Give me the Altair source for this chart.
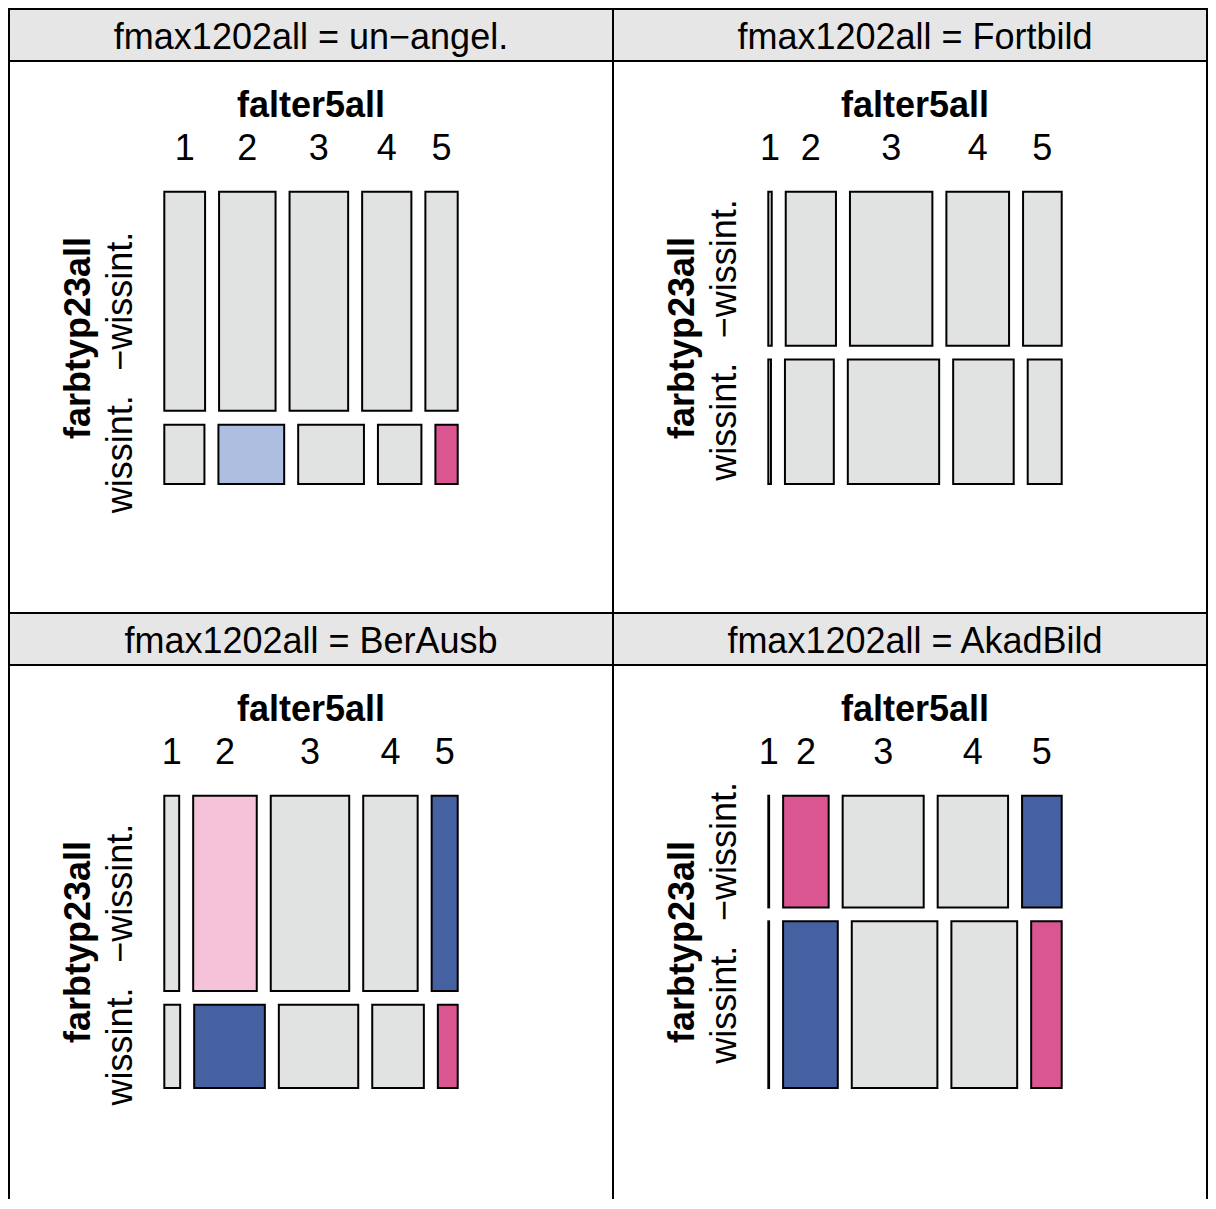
import altair as alt
import pandas as pd

# ---- data (cell shares, % of each panel's total) ----
panel_labels = ["fmax1202all = un\u2212angel.", "fmax1202all = Fortbild",
                "fmax1202all = BerAusb", "fmax1202all = AkadBild"]
ages = ["1", "2", "3", "4", "5"]
rows = ["\u2212wissint.", "wissint."]

un_top = [13.5, 18.7, 19.4, 16.3, 10.7]
un_bot = [3.6, 5.9, 5.9, 3.9, 2.0]
fo_top = [0.8, 11.7, 19.2, 14.6, 9.0]
fo_bot = [0.5, 9.2, 17.2, 11.4, 6.4]
be_top = [4.4, 18.8, 23.2, 16.1, 7.7]
be_bot = [2.0, 8.9, 10.0, 6.5, 2.5]
ak_top = [0.14, 7.7, 13.7, 11.9, 6.7]
ak_bot = [0.2, 13.8, 21.6, 16.6, 7.7]

# residual shading class per cell
un_top_s = ["n", "n", "n", "n", "n"]
un_bot_s = ["n", "b1", "n", "n", "r2"]
fo_top_s = ["n", "n", "n", "n", "n"]
fo_bot_s = ["n", "n", "n", "n", "n"]
be_top_s = ["n", "r1", "n", "n", "b2"]
be_bot_s = ["n", "b2", "n", "n", "r2"]
ak_top_s = ["n", "r2", "n", "n", "b2"]
ak_bot_s = ["n", "b2", "n", "n", "r2"]

shade_domain = ["n", "b1", "b2", "r1", "r2"]
shade_range = ["#E1E2E2", "#AEBEE1", "#4661A1", "#F6C2D9", "#D95691"]

FONT = "Liberation Sans"
FS = 36
G = 0.0477  # gap between tiles (fraction of mosaic size)

xs = alt.Scale(domain=[0, 1], range=[155.3, 448.7])
ys = alt.Scale(domain=[0, 1], range=[182.7, 475.0])
cs = alt.Scale(domain=shade_domain, range=shade_range)


def tiles(top, bot, top_s, bot_s):
    recs = []
    tot = sum(top) + sum(bot)
    y = 0.0
    for r, (vals, shades) in enumerate([(top, top_s), (bot, bot_s)]):
        rt = sum(vals)
        h = rt / tot * (1 - G)
        x = 0.0
        for j, (v, s) in enumerate(zip(vals, shades)):
            w = v / rt * (1 - 4 * G)
            recs.append(dict(row=rows[r], age=ages[j], x0=x, x1=x + w,
                             y0=y, y1=y + h, xc=x + w / 2, yc=y + h / 2,
                             shade=s))
            x += w + G
        y += h + G
    return pd.DataFrame(recs)


def panel(label, df, W, H, right_border):
    header = alt.Chart(pd.DataFrame({"t": [label]})).mark_rect(
        fill="#E6E6E6", stroke="black", strokeWidth=2
    ).encode(x=alt.value(0), x2=alt.value(W), y=alt.value(0), y2=alt.value(52))
    header_txt = alt.Chart(pd.DataFrame({"t": [label]})).mark_text(
        font=FONT, fontSize=FS, baseline="alphabetic", align="center", color="black"
    ).encode(x=alt.value(302), y=alt.value(40), text="t:N")
    left = alt.Chart(pd.DataFrame({"t": [label]})).mark_rule(
        color="black", strokeWidth=2
    ).encode(x=alt.value(0), y=alt.value(0), y2=alt.value(H))
    layers = [header, left]
    if right_border:
        layers.append(alt.Chart(pd.DataFrame({"t": [label]})).mark_rule(
            color="black", strokeWidth=2
        ).encode(x=alt.value(W), y=alt.value(0), y2=alt.value(H)))
    rect = alt.Chart(df).mark_rect(stroke="black", strokeWidth=2).encode(
        x=alt.X("x0:Q", scale=xs, axis=None), x2="x1:Q",
        y=alt.Y("y0:Q", scale=ys, axis=None), y2="y1:Q",
        fill=alt.Fill("shade:N", scale=cs, legend=None),
    )
    col_lab = alt.Chart(df[df["row"] == rows[0]]).mark_text(
        font=FONT, fontSize=FS, baseline="alphabetic", align="center", color="black"
    ).encode(x=alt.X("xc:Q", scale=xs, axis=None), y=alt.value(151), text="age:N")
    row_lab = alt.Chart(df[df["age"] == ages[0]]).mark_text(
        font=FONT, fontSize=FS, baseline="alphabetic", align="center", angle=270,
        color="black"
    ).encode(x=alt.value(123), y=alt.Y("yc:Q", scale=ys, axis=None), text="row:N")
    xt = alt.Chart(pd.DataFrame({"t": ["falter5all"]})).mark_text(
        font=FONT, fontSize=FS, fontWeight="bold", baseline="alphabetic",
        align="center", color="black"
    ).encode(x=alt.value(302), y=alt.value(108), text="t:N")
    yt = alt.Chart(pd.DataFrame({"t": ["farbtyp23all"]})).mark_text(
        font=FONT, fontSize=FS, fontWeight="bold", baseline="alphabetic",
        align="center", angle=270, color="black"
    ).encode(x=alt.value(81), y=alt.value(329), text="t:N")
    layers += [header_txt, rect, col_lab, row_lab, xt, yt]
    return alt.layer(*layers).properties(width=W, height=H)


p1 = panel(panel_labels[0], tiles(un_top, un_bot, un_top_s, un_bot_s), 604, 604, False)
p2 = panel(panel_labels[1], tiles(fo_top, fo_bot, fo_top_s, fo_bot_s), 594, 604, True)
p3 = panel(panel_labels[2], tiles(be_top, be_bot, be_top_s, be_bot_s), 604, 586, False)
p4 = panel(panel_labels[3], tiles(ak_top, ak_bot, ak_top_s, ak_bot_s), 594, 586, True)

chart = alt.concat(
    p1, p2, p3, p4, columns=2, spacing=0, bounds="flush"
).properties(
    padding={"left": 0, "top": 0, "right": 0, "bottom": 0}
).configure_view(strokeWidth=0)

chart.save("out.html", embed_options={"renderer": "svg", "actions": False})
